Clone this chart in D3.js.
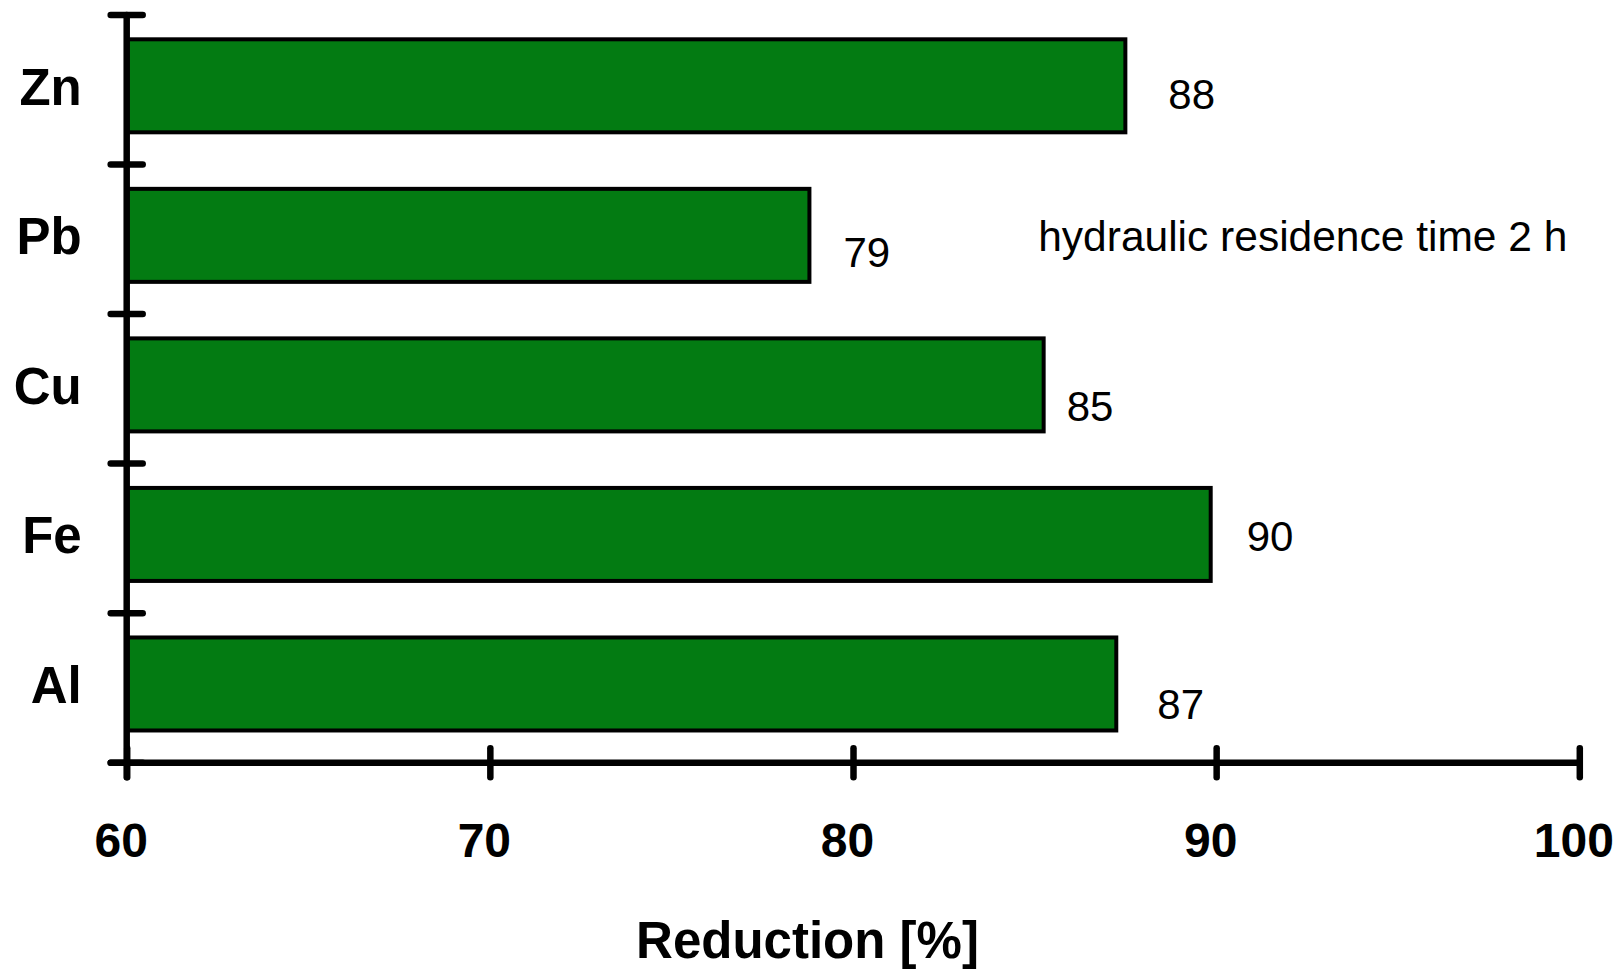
<!DOCTYPE html>
<html>
<head>
<meta charset="utf-8">
<script src="https://cdn.jsdelivr.net/npm/d3@7"></script>
<style>
  html, body { margin: 0; padding: 0; background: #fff; }
  svg { display: block; font-family: "Liberation Sans", Arial, Helvetica, sans-serif; }
</style>
</head>
<body>
<svg id="chart" width="1619" height="971"></svg>
<script>
// ---- data ----
const categories = ["Zn", "Pb", "Cu", "Fe", "Al"];
const reduction = [87.5, 78.8, 85.25, 89.85, 87.25];
const valueLabels = ["88", "79", "85", "90", "87"];
const xTicks = [60, 70, 80, 90, 100];
const xTitle = "Reduction [%]";
const note = "hydraulic residence time 2 h";

// ---- layout ----
const labelNudge = [[43, 23], [34, 32], [23, 36], [36, 17], [41, 35.5]];
const green = "#037b12";

const svg = d3.select("#chart");

const x = d3.scaleLinear().domain([60, 100]).range([126.7, 1579.3]);
const yBand = d3.scaleBand().domain(categories).range([15, 762.7]).padding(0);
const yBar = d3.scaleBand().domain(categories).range([15, 762.7])
  .paddingInner(0.378).paddingOuter(0.189).align(0.43);

// bars
svg.append("g").selectAll("rect")
  .data(categories)
  .join("rect")
  .attr("x", x(60))
  .attr("y", d => yBar(d))
  .attr("width", (d, i) => x(reduction[i]) - x(60))
  .attr("height", yBar.bandwidth())
  .attr("fill", green)
  .attr("stroke", "#000")
  .attr("stroke-width", 4);

// value labels
svg.append("g").selectAll("text")
  .data(categories)
  .join("text")
  .attr("x", (d, i) => x(reduction[i]) + labelNudge[i][0])
  .attr("y", (d, i) => yBar(d) + yBar.bandwidth() / 2 + labelNudge[i][1])
  .attr("font-size", 42)
  .attr("fill", "#000")
  .text((d, i) => valueLabels[i]);

// note
svg.append("text")
  .attr("x", x(85.1))
  .attr("y", yBand("Pb") + 86)
  .attr("font-size", 42.5)
  .attr("fill", "#000")
  .text(note);

// x axis
const xAxisG = svg.append("g")
  .attr("transform", `translate(0,${yBand.range()[1]})`)
  .call(d3.axisBottom(x).tickValues(xTicks).tickSize(0).tickFormat(d3.format("d")));
xAxisG.select(".domain").remove();
xAxisG.append("line")
  .attr("x1", x(60) - 16).attr("x2", x(100))
  .attr("stroke", "#000").attr("stroke-width", 6.5).attr("stroke-linecap", "round");
xAxisG.selectAll(".tick line")
  .attr("y1", -14.5).attr("y2", 14.5)
  .attr("stroke", "#000").attr("stroke-width", 6.5).attr("stroke-linecap", "round");
xAxisG.selectAll(".tick text")
  .attr("y", 94).attr("dy", 0).attr("dx", -6)
  .attr("font-size", 48).attr("font-weight", "bold")
  .attr("font-family", "Liberation Sans, Arial, sans-serif")
  .attr("fill", "#000");

// y axis
const yAxisG = svg.append("g").attr("transform", `translate(${x(60)},0)`);
yAxisG.append("line")
  .attr("y1", yBand.range()[0]).attr("y2", yBand.range()[1] + 14.5)
  .attr("stroke", "#000").attr("stroke-width", 6.5).attr("stroke-linecap", "round");
const boundaries = categories.map(c => yBand(c)).concat([yBand.range()[1]]);
yAxisG.selectAll("line.tick")
  .data(boundaries)
  .join("line")
  .attr("class", "tick")
  .attr("x1", -16).attr("x2", 16)
  .attr("y1", d => d).attr("y2", d => d)
  .attr("stroke", "#000").attr("stroke-width", 6.5).attr("stroke-linecap", "round");
yAxisG.selectAll("text")
  .data(categories)
  .join("text")
  .attr("x", -45)
  .attr("y", d => yBand(d) + yBand.bandwidth() / 2 + 15)
  .attr("text-anchor", "end")
  .attr("font-size", 51)
  .attr("font-weight", "bold")
  .attr("fill", "#000")
  .text(d => d);

// x title
svg.append("text")
  .attr("x", 807.5)
  .attr("y", 958)
  .attr("text-anchor", "middle")
  .attr("font-size", 51)
  .attr("font-weight", "bold")
  .attr("fill", "#000")
  .text(xTitle);
</script>
</body>
</html>
